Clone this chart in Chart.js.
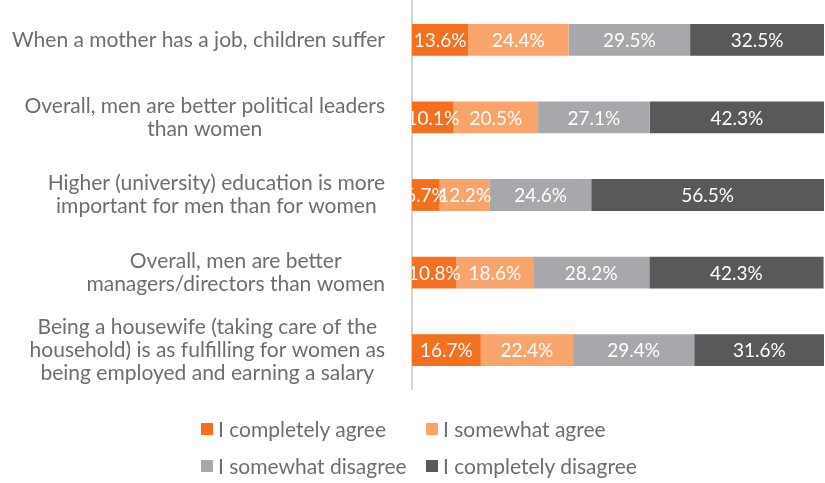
<!DOCTYPE html>
<html>
<head>
<meta charset="utf-8">
<script src="https://cdn.jsdelivr.net/npm/chart.js@4/dist/chart.umd.min.js"></script>
<style>
  html, body { margin: 0; padding: 0; background: #fff; }
  #wrap { position: relative; width: 825px; height: 483px; }
  #chart { position: absolute; left: 0; top: 0; }
  #legend {
    position: absolute; left: 201px; top: 410px;
    display: grid; grid-template-columns: 225px 225px; grid-auto-rows: 37px;
    font-family: Lato, sans-serif; font-size: 21px; color: #6d6e71;
  }
  #legend .item { display: flex; align-items: center; white-space: nowrap; }
  #legend .sw { width: 12px; height: 12px; margin-right: 5px; flex: none; }
</style>
</head>
<body>
<div id="wrap">
  <canvas id="chart" width="825" height="483"></canvas>
  <div id="legend"></div>
</div>
<script>
// Survey statements (one bar each)
const categories = [
  ["When a mother has a job, children suffer"],
  ["Overall, men are better political leaders", "than women"],
  ["Higher (university) education is more", "important for men than for women"],
  ["Overall, men are better", "managers/directors than women"],
  ["Being a housewife (taking care of the", "household) is as fulfilling for women as", "being employed and earning a salary"]
];

// Answer shares in percent
const completelyAgree    = [13.6, 10.1, 6.7, 10.8, 16.7];
const somewhatAgree      = [24.4, 20.5, 12.2, 18.6, 22.4];
const somewhatDisagree   = [29.5, 27.1, 24.6, 28.2, 29.4];
const completelyDisagree = [32.5, 42.3, 56.5, 42.3, 31.6];

const seriesNames = ["I completely agree", "I somewhat agree", "I somewhat disagree", "I completely disagree"];
const seriesColors = ["#f37021", "#f8a46c", "#a7a8ab", "#58595b"];

const FONT = 'Lato, sans-serif';

// Right-aligned statement blocks with their lines centred to each other
const categoryLabels = {
  id: 'categoryLabels',
  afterDraw(chart) {
    const ctx = chart.ctx;
    const y = chart.scales.y;
    const right = 385;
    const lh = 23;
    ctx.save();
    ctx.font = '21px ' + FONT;
    ctx.fillStyle = '#6d6e71';
    ctx.textBaseline = 'middle';
    ctx.textAlign = 'center';
    chart.data.labels.forEach((lines, i) => {
      const cy = y.getPixelForTick(i);
      const widths = lines.map(l => ctx.measureText(l).width);
      const blockW = Math.max(...widths);
      const cx = right - blockW / 2;
      const top = cy - (lines.length - 1) * lh / 2;
      lines.forEach((l, j) => ctx.fillText(l, cx, top + j * lh));
    });
    ctx.restore();
  }
};

// Value labels centred in each segment, clipped to the plot area
const valueLabels = {
  id: 'valueLabels',
  afterDatasetsDraw(chart) {
    const ctx = chart.ctx;
    const a = chart.chartArea;
    ctx.save();
    ctx.beginPath();
    ctx.rect(a.left, a.top, a.right - a.left, a.bottom - a.top);
    ctx.clip();
    ctx.font = '19px ' + FONT;
    ctx.fillStyle = '#ffffff';
    ctx.textAlign = 'center';
    ctx.textBaseline = 'middle';
    chart.data.datasets.forEach((ds, di) => {
      chart.getDatasetMeta(di).data.forEach((el, i) => {
        const p = el.getCenterPoint();
        ctx.fillText(ds.data[i].toFixed(1) + '%', p.x, p.y + 1);
      });
    });
    ctx.restore();
  }
};

const values = [completelyAgree, somewhatAgree, somewhatDisagree, completelyDisagree];

const chart = new Chart(document.getElementById('chart'), {
  type: 'bar',
  data: {
    labels: categories,
    datasets: values.map((v, i) => ({
      label: seriesNames[i],
      data: v,
      backgroundColor: seriesColors[i],
      borderWidth: 0,
      barPercentage: 0.41,
      categoryPercentage: 1.0
    }))
  },
  options: {
    indexAxis: 'y',
    responsive: false,
    animation: false,
    layout: { padding: { top: 1, right: 1, bottom: 94, left: 0 } },
    plugins: { legend: { display: false }, tooltip: { enabled: false } },
    scales: {
      x: { stacked: true, min: 0, max: 100, display: false },
      y: {
        stacked: true,
        grid: { display: false, drawTicks: false },
        border: { display: true, color: '#d4d4d4', width: 2 },
        ticks: { display: false },
        afterFit(scale) { scale.width = 412; }
      }
    }
  },
  plugins: [categoryLabels, valueLabels]
});

// Legend built from the chart's datasets
const legend = document.getElementById('legend');
chart.data.datasets.forEach(ds => {
  const item = document.createElement('div');
  item.className = 'item';
  const sw = document.createElement('span');
  sw.className = 'sw';
  sw.style.background = ds.backgroundColor;
  const t = document.createElement('span');
  t.textContent = ds.label;
  item.appendChild(sw);
  item.appendChild(t);
  legend.appendChild(item);
});
</script>
</body>
</html>
